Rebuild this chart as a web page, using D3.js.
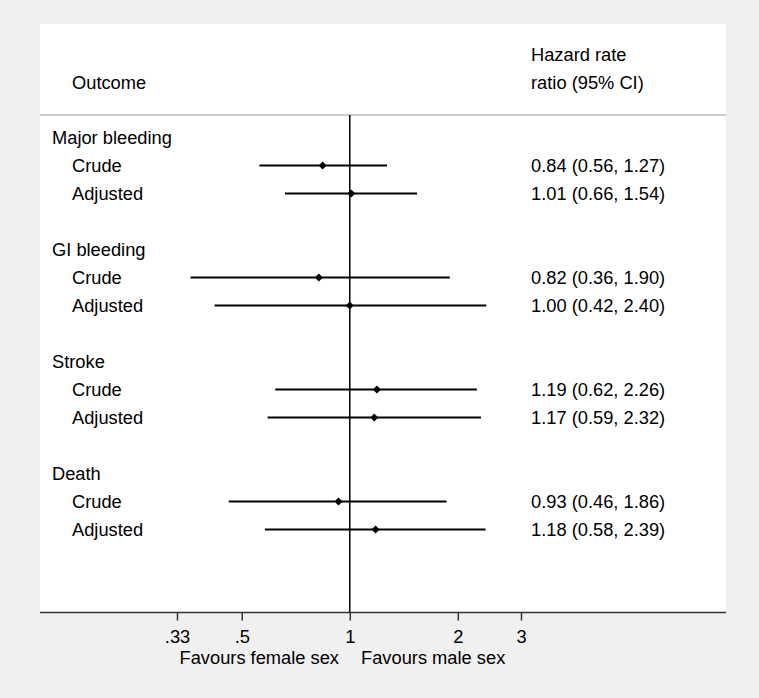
<!DOCTYPE html>
<html>
<head>
<meta charset="utf-8">
<script src="https://cdn.jsdelivr.net/npm/d3@7"></script>
<style>
body { margin: 0; background: #f0f0f0; }
svg text { font-family: "Liberation Sans", Arial, Helvetica, sans-serif; font-size: 18.3px; fill: #000; }
</style>
</head>
<body>
<svg id="chart" width="759" height="698"></svg>
<script>
var outcomes = ["Major bleeding", "GI bleeding", "Stroke", "Death"];
var models = ["Crude", "Adjusted"];
var hr    = [0.84, 1.01, 0.82, 1.00, 1.19, 1.17, 0.93, 1.18];
var lower = [0.56, 0.66, 0.36, 0.42, 0.62, 0.59, 0.46, 0.58];
var upper = [1.27, 1.54, 1.90, 2.40, 2.26, 2.32, 1.86, 2.39];
var tickValues = [0.33, 0.5, 1, 2, 3];
var tickLabels = [".33", ".5", "1", "2", "3"];

var svg = d3.select("#chart");
var panel = {left: 40, right: 726, top: 24, bottom: 612.5};
var headerLine = 115;

// rows: group title then two estimates, blank row between groups
var rows = [];
outcomes.forEach(function(o, i) {
	rows.push({label: o, type: "group"});
	models.forEach(function(m, j) {
		var k = i * 2 + j;
		rows.push({label: m, type: "est", hr: hr[k], lo: lower[k], hi: upper[k]});
	});
	rows.push({type: "blank"});
});

var x = d3.scaleLog().domain([0.33, 3]).range([177, 521]);
var y = d3.scaleLinear().domain([0, 1]).range([137.5, 165.5]);

svg.append("rect")
	.attr("x", panel.left).attr("y", panel.top)
	.attr("width", panel.right - panel.left).attr("height", panel.bottom - panel.top)
	.attr("fill", "#fff");

svg.append("line")
	.attr("x1", panel.left).attr("x2", panel.right)
	.attr("y1", headerLine).attr("y2", headerLine)
	.attr("stroke", "#bdbdbd").attr("stroke-width", 1.5);

// headers
svg.append("text").attr("x", 72).attr("y", 89).text("Outcome");
svg.append("text").attr("x", 531).attr("y", 61).text("Hazard rate");
svg.append("text").attr("x", 531).attr("y", 89).text("ratio (95% CI)");

// null line
svg.append("line")
	.attr("x1", x(1)).attr("x2", x(1))
	.attr("y1", headerLine).attr("y2", panel.bottom)
	.attr("stroke", "#000").attr("stroke-width", 1.5);

var g = svg.selectAll(".row")
	.data(rows.map(function(d, i) { d.i = i; return d; }).filter(function(d) { return d.type != "blank"; }))
	.enter().append("g")
	.attr("class", "row")
	.attr("transform", function(d) { return "translate(0," + y(d.i) + ")"; });

g.append("text")
	.attr("x", function(d) { return d.type == "group" ? 52 : 72; })
	.attr("y", 6.5)
	.text(function(d) { return d.label; });

var est = g.filter(function(d) { return d.type == "est"; });

est.append("line")
	.attr("x1", function(d) { return x(d.lo); })
	.attr("x2", function(d) { return x(d.hi); })
	.attr("stroke", "#000").attr("stroke-width", 2);

est.append("path")
	.attr("transform", function(d) { return "translate(" + x(d.hr) + ",0)"; })
	.attr("d", "M0,-4L4,0L0,4L-4,0Z")
	.attr("fill", "#000");

est.append("text")
	.attr("x", 531).attr("y", 6.5)
	.text(function(d) { return d.hr.toFixed(2) + " (" + d.lo.toFixed(2) + ", " + d.hi.toFixed(2) + ")"; });

// axis
var axis = d3.axisBottom(x)
	.tickValues(tickValues)
	.tickFormat(function(d, i) { return tickLabels[i]; })
	.tickSize(8)
	.tickPadding(10);

var ax = svg.append("g")
	.attr("transform", "translate(0," + panel.bottom + ")")
	.call(axis);
ax.select(".domain").remove();
ax.selectAll(".tick line").attr("stroke", "#333").attr("stroke-width", 1.5);
ax.selectAll(".tick text").attr("font-size", null).attr("font-family", null);
ax.append("line")
	.attr("x1", panel.left).attr("x2", panel.right)
	.attr("stroke", "#333").attr("stroke-width", 1.5);

svg.append("text").attr("x", 339).attr("y", 664).attr("text-anchor", "end").text("Favours female sex");
svg.append("text").attr("x", 361).attr("y", 664).text("Favours male sex");
</script>
</body>
</html>
